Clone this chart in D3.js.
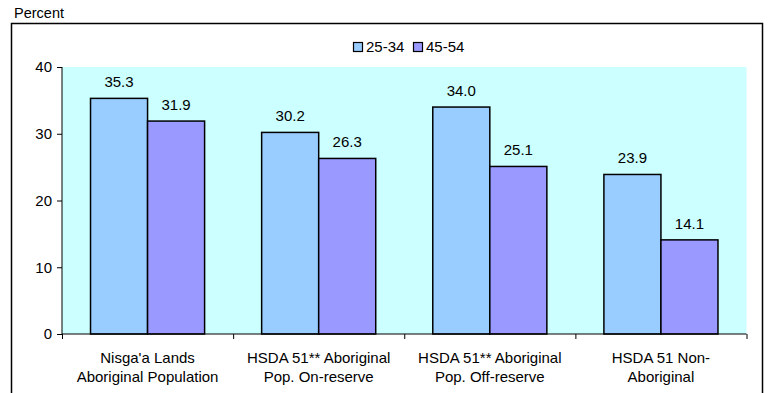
<!DOCTYPE html>
<html><head><meta charset="utf-8">
<script src="https://cdn.jsdelivr.net/npm/d3@7"></script>
<style>body{margin:0;background:#fff}svg{display:block;font-family:"Liberation Sans",Arial,sans-serif}</style>
</head><body>
<svg id="c" width="770" height="393"></svg>
<script>
const categories = [["Nisga'a Lands","Aboriginal Population"],["HSDA 51** Aboriginal","Pop. On-reserve"],["HSDA 51** Aboriginal","Pop. Off-reserve"],["HSDA 51 Non-","Aboriginal"]];
const series = ["25-34","45-54"];
const values2534 = [35.3, 30.2, 34.0, 23.9];
const values4554 = [31.9, 26.3, 25.1, 14.1];
const yTicks = [0,10,20,30,40];
const colors = ["#99CCFF","#9999FF"];

const svg = d3.select("#c");
const fs = 15;
const L=62, R=746.5, T=67, B=334;
svg.append("rect").attr("x",11.5).attr("y",23.5).attr("width",751).attr("height",400).attr("fill","none").attr("stroke","#000").attr("stroke-width",1.5);
svg.append("text").attr("x",14).attr("y",18).attr("font-size",14.5).text("Percent");

const x0 = d3.scaleBand().domain(d3.range(categories.length)).range([L,R]).paddingInner(0).paddingOuter(0);
const x1 = d3.scaleBand().domain([0,1]).range([0,x0.bandwidth()]).paddingOuter(0.5).paddingInner(0);
const y = d3.scaleLinear().domain([0,40]).range([B,T]);

svg.append("rect").attr("x",L).attr("y",T).attr("width",R-L).attr("height",B-T).attr("fill","#CCFFFF");

const data = [values2534, values4554];
categories.forEach((c,i)=>{
  data.forEach((vals,s)=>{
    const bx = x0(i)+x1(s);
    svg.append("rect").attr("x",bx).attr("y",y(vals[i])).attr("width",x1.bandwidth()).attr("height",y(0)-y(vals[i]))
      .attr("fill",colors[s]).attr("stroke","#000").attr("stroke-width",1.5);
    svg.append("text").attr("x",bx+x1.bandwidth()/2).attr("y",y(vals[i])-11).attr("text-anchor","middle").attr("font-size",fs).text(vals[i].toFixed(1));
  });
});

const yAxis = svg.append("g").attr("transform",`translate(${L},0)`).call(d3.axisLeft(y).tickValues(yTicks).tickSize(5).tickPadding(5));
yAxis.selectAll("text").attr("font-size",fs).attr("font-family","Liberation Sans, Arial, sans-serif").attr("fill","#000");
yAxis.select(".domain").attr("d",`M-0,${T}V${B}`);
yAxis.selectAll("line,path").attr("stroke","#000");

const xs = d3.scaleLinear().domain([0,categories.length]).range([L,R]);
const xAxis = svg.append("g").attr("transform",`translate(0,${B})`).call(d3.axisBottom(xs).tickValues(d3.range(categories.length+1)).tickSize(5).tickFormat(""));
xAxis.select(".domain").attr("d",`M${L},0H${R}`);
xAxis.selectAll("line,path").attr("stroke","#000");

categories.forEach((c,i)=>{
  const t = svg.append("text").attr("x",x0(i)+x0.bandwidth()/2).attr("y",363).attr("text-anchor","middle").attr("font-size",fs);
  c.forEach((ln,k)=>t.append("tspan").attr("x",x0(i)+x0.bandwidth()/2).attr("dy",k?19:0).text(ln));
});

const lg = svg.append("g");
const lx = [353, 413];
series.forEach((s,i)=>{
  lg.append("rect").attr("x",lx[i]+0.5).attr("y",42.5).attr("width",9).attr("height",9).attr("fill",colors[i]).attr("stroke","#000").attr("stroke-width",1.2);
  lg.append("text").attr("x",lx[i]+13).attr("y",52).attr("font-size",fs).text(s);
});
</script>
</body></html>
